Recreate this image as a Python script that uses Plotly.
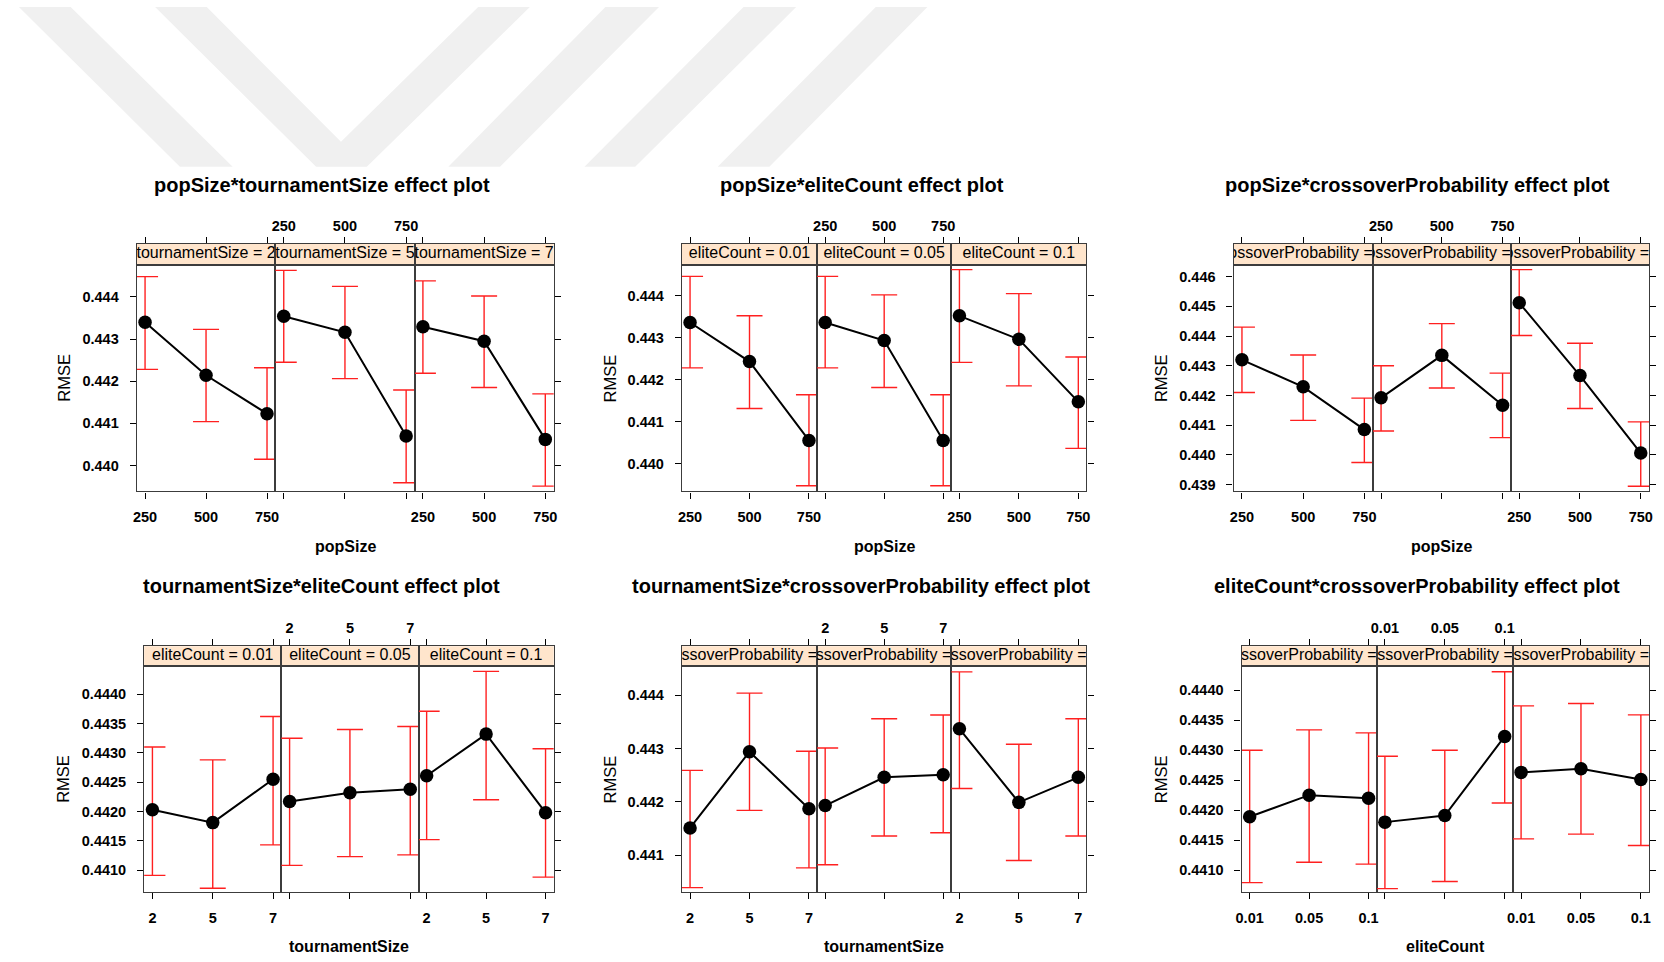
import plotly.graph_objects as go

# ---------------------------------------------------------------------------
# Factor levels
# ---------------------------------------------------------------------------
pop_levels = ["250", "500", "750"]
tourn_levels = ["2", "5", "7"]
elite_levels = ["0.01", "0.05", "0.1"]

tourn_strips = ["tournamentSize = 2", "tournamentSize = 5", "tournamentSize = 7"]
elite_strips = ["eliteCount = 0.01", "eliteCount = 0.05", "eliteCount = 0.1"]
cross_strips = ["crossoverProbability =", "crossoverProbability =", "crossoverProbability ="]

# ---------------------------------------------------------------------------
# Effect estimates (RMSE) with lower / upper confidence limits, one row per panel
# ---------------------------------------------------------------------------
pop_tourn_fit = [[0.44340, 0.44214, 0.44123], [0.44354, 0.44316, 0.44070], [0.44329, 0.44295, 0.44062]]
pop_tourn_lower = [[0.44228, 0.44104, 0.44015], [0.44245, 0.44206, 0.43959], [0.44219, 0.44185, 0.43951]]
pop_tourn_upper = [[0.44448, 0.44323, 0.44232], [0.44463, 0.44425, 0.44179], [0.44438, 0.44402, 0.44170]]

pop_elite_fit = [[0.44336, 0.44243, 0.44055], [0.44336, 0.44293, 0.44055], [0.44352, 0.44296, 0.44147]]
pop_elite_lower = [[0.44228, 0.44131, 0.43947], [0.44228, 0.44181, 0.43947], [0.44241, 0.44185, 0.44036]]
pop_elite_upper = [[0.44446, 0.44352, 0.44164], [0.44446, 0.44402, 0.44164], [0.44462, 0.44405, 0.44254]]

pop_cross_fit = [[0.44320, 0.44229, 0.44085], [0.44192, 0.44335, 0.44167], [0.44512, 0.44267, 0.44006]]
pop_cross_lower = [[0.44210, 0.44116, 0.43974], [0.44080, 0.44225, 0.44058], [0.44402, 0.44156, 0.43894]]
pop_cross_upper = [[0.44430, 0.44336, 0.44191], [0.44300, 0.44442, 0.44275], [0.44624, 0.44376, 0.44111]]

tourn_elite_fit = [[0.44203, 0.44181, 0.44255], [0.44217, 0.44232, 0.44238], [0.44261, 0.44332, 0.44198]]
tourn_elite_lower = [[0.44091, 0.44069, 0.44143], [0.44108, 0.44123, 0.44126], [0.44152, 0.44220, 0.44088]]
tourn_elite_upper = [[0.44310, 0.44288, 0.44362], [0.44325, 0.44340, 0.44345], [0.44371, 0.44439, 0.44307]]

tourn_cross_fit = [[0.44151, 0.44294, 0.44187], [0.44193, 0.44246, 0.44251], [0.44337, 0.44199, 0.44246]]
tourn_cross_lower = [[0.44039, 0.44184, 0.44076], [0.44082, 0.44136, 0.44142], [0.44225, 0.44090, 0.44136]]
tourn_cross_upper = [[0.44259, 0.44404, 0.44295], [0.44301, 0.44356, 0.44363], [0.44444, 0.44308, 0.44356]]

elite_cross_fit = [[0.44189, 0.44225, 0.44220], [0.44180, 0.44191, 0.44323], [0.44263, 0.44269, 0.44251]]
elite_cross_lower = [[0.44079, 0.44113, 0.44110], [0.44069, 0.44081, 0.44212], [0.44152, 0.44160, 0.44141]]
elite_cross_upper = [[0.44300, 0.44334, 0.44329], [0.44290, 0.44300, 0.44431], [0.44374, 0.44378, 0.44359]]

# y-axis tick values per plot
ticks_3dp_a = [0.440, 0.441, 0.442, 0.443, 0.444]
ticks_3dp_b = [0.439, 0.440, 0.441, 0.442, 0.443, 0.444, 0.445, 0.446]
ticks_4dp = [0.4410, 0.4415, 0.4420, 0.4425, 0.4430, 0.4435, 0.4440]
ticks_3dp_c = [0.441, 0.442, 0.443, 0.444]

# ---------------------------------------------------------------------------
# Page geometry (pixels)
# ---------------------------------------------------------------------------
W, H = 1664, 962
ROWS = [(244, 265, 492), (647, 667, 893)]          # strip top, strip bottom, panel bottom
XPAD = 0.137                                          # axis padding in level units
LINE = "#3c3c3c"
FONT = "Liberation Sans, Arial, sans-serif"
TICKFONT = dict(family=FONT, size=14.5, color="black", weight="bold")

plots = [
    dict(title="popSize*tournamentSize effect plot", xname="popSize", levels=pop_levels,
         strips=tourn_strips, strip_anchor="center",
         fit=pop_tourn_fit, lower=pop_tourn_lower, upper=pop_tourn_upper,
         yrange=[0.439384, 0.444763], yticks=ticks_3dp_a, fmt=".3f",
         edges=[131.5, 271, 411, 551], title_xy=(318, 185), rmse_x=58),
    dict(title="popSize*eliteCount effect plot", xname="popSize", levels=pop_levels,
         strips=elite_strips, strip_anchor="center",
         fit=pop_elite_fit, lower=pop_elite_lower, upper=pop_elite_upper,
         yrange=[0.439333, 0.444738], yticks=ticks_3dp_a, fmt=".3f",
         edges=[680, 816, 951, 1087], title_xy=(861, 185), rmse_x=608),
    dict(title="popSize*crossoverProbability effect plot", xname="popSize", levels=pop_levels,
         strips=cross_strips, strip_anchor="right",
         fit=pop_cross_fit, lower=pop_cross_lower, upper=pop_cross_upper,
         yrange=[0.438764, 0.446404], yticks=ticks_3dp_b, fmt=".3f",
         edges=[1235, 1375, 1514, 1653], title_xy=(1420, 185), rmse_x=1162),
    dict(title="tournamentSize*eliteCount effect plot", xname="tournamentSize", levels=tourn_levels,
         strips=elite_strips, strip_anchor="center",
         fit=tourn_elite_fit, lower=tourn_elite_lower, upper=tourn_elite_upper,
         yrange=[0.440625, 0.444477], yticks=ticks_4dp, fmt=".4f",
         edges=[139, 277, 415, 551], title_xy=(317, 587), rmse_x=58),
    dict(title="tournamentSize*crossoverProbability effect plot", xname="tournamentSize", levels=tourn_levels,
         strips=cross_strips, strip_anchor="right",
         fit=tourn_cross_fit, lower=tourn_cross_lower, upper=tourn_cross_upper,
         yrange=[0.440306, 0.444544], yticks=ticks_3dp_c, fmt=".3f",
         edges=[680, 816, 951, 1087], title_xy=(860, 587), rmse_x=608),
    dict(title="eliteCount*crossoverProbability effect plot", xname="eliteCount", levels=elite_levels,
         strips=cross_strips, strip_anchor="right",
         fit=elite_cross_fit, lower=elite_cross_lower, upper=elite_cross_upper,
         yrange=[0.440633, 0.444400], yticks=ticks_4dp, fmt=".4f",
         edges=[1243, 1379, 1516, 1653], title_xy=(1420, 587), rmse_x=1162),
]


def fx(px):
    return px / W


def fy(py):
    return 1 - py / H


def ax_id(letter, i):
    return letter if i == 1 else f"{letter}{i}"


def ax_key(letter, i):
    return f"{letter}axis" if i == 1 else f"{letter}axis{i}"


fig = go.Figure()
axes = {}
shapes = []
annotations = []

for p, spec in enumerate(plots):
    strip_top, strip_bot, panel_bot = ROWS[p // 3]
    n = len(spec["levels"])
    pos = list(range(n))
    xr = [-XPAD, n - 1 + XPAD]
    edges = spec["edges"]

    for k in range(3):
        m = p * 6 + k * 2 + 1      # data panel
        s = m + 1                  # strip above it
        dom_x = [fx(edges[k]), fx(edges[k + 1])]

        # data panel axes
        axes[ax_key("x", m)] = dict(
            domain=dom_x, anchor=ax_id("y", m), range=xr,
            tickvals=pos, ticktext=spec["levels"], showticklabels=(k != 1),
            ticks="outside", ticklen=6, tickwidth=1, tickcolor="black",
            ticklabelstandoff=6,
            showline=True, mirror=True, linecolor=LINE, linewidth=1.2,
            showgrid=False, zeroline=False, tickfont=TICKFONT, fixedrange=True,
        )
        axes[ax_key("y", m)] = dict(
            domain=[fy(panel_bot), fy(strip_bot)], anchor=ax_id("x", m),
            range=spec["yrange"], tickvals=spec["yticks"], tickformat=spec["fmt"],
            side="right" if k == 2 else "left",
            ticks="" if k == 1 else "outside", ticklen=6, tickwidth=1, tickcolor="black",
            showticklabels=(k == 0), ticklabelstandoff=8,
            showline=True, mirror=True, linecolor=LINE, linewidth=1.2,
            showgrid=False, zeroline=False, tickfont=TICKFONT, fixedrange=True,
        )

        # strip axes (tick marks on top, labels only over the middle panel)
        axes[ax_key("x", s)] = dict(
            domain=dom_x, anchor=ax_id("y", s), range=xr, side="top",
            tickvals=pos, ticktext=spec["levels"], showticklabels=(k == 1),
            ticks="outside", ticklen=6, tickwidth=1, tickcolor="black",
            showline=True, mirror=True, linecolor=LINE, linewidth=1.2,
            showgrid=False, zeroline=False, tickfont=TICKFONT, fixedrange=True,
        )
        axes[ax_key("y", s)] = dict(
            domain=[fy(strip_bot), fy(strip_top)], anchor=ax_id("x", s),
            range=[0, 1], showticklabels=False, ticks="",
            showline=True, mirror=True, linecolor=LINE, linewidth=1.2,
            showgrid=False, zeroline=False, fixedrange=True,
        )

        shapes.append(dict(
            type="rect", xref=f"{ax_id('x', s)} domain", yref=f"{ax_id('y', s)} domain",
            x0=0, x1=1, y0=0, y1=1, fillcolor="#ffe5cc", line=dict(width=0), layer="below",
        ))

        # strip label, clipped to the strip box
        if spec["strip_anchor"] == "center":
            sx, tpos = (n - 1) / 2, "middle center"
        else:
            sx, tpos = xr[1], "middle left"
        fig.add_trace(go.Scatter(
            x=[sx], y=[0.5], xaxis=ax_id("x", s), yaxis=ax_id("y", s),
            mode="text", text=[spec["strips"][k]], textposition=tpos,
            textfont=dict(family=FONT, size=16, color="black"),
            cliponaxis=True, showlegend=False, hoverinfo="skip",
        ))

        fit = spec["fit"][k]
        lo = spec["lower"][k]
        up = spec["upper"][k]

        # confidence intervals
        fig.add_trace(go.Scatter(
            x=pos, y=fit, xaxis=ax_id("x", m), yaxis=ax_id("y", m),
            mode="markers", marker=dict(size=1, color="rgba(0,0,0,0)"),
            error_y=dict(type="data", symmetric=False,
                         array=[u - f for u, f in zip(up, fit)],
                         arrayminus=[f - l for f, l in zip(fit, lo)],
                         color="#ff2020", thickness=1.4, width=13),
            cliponaxis=True, showlegend=False, hoverinfo="skip",
        ))
        # fitted effect line
        fig.add_trace(go.Scatter(
            x=pos, y=fit, xaxis=ax_id("x", m), yaxis=ax_id("y", m),
            mode="lines+markers", line=dict(color="black", width=2),
            marker=dict(size=13.5, color="black"),
            cliponaxis=True, showlegend=False,
        ))

    # plot title
    tx, ty = spec["title_xy"]
    annotations.append(dict(
        text=spec["title"], x=fx(tx), y=fy(ty), xref="paper", yref="paper",
        xanchor="center", yanchor="middle", showarrow=False,
        font=dict(family=FONT, size=20, color="black", weight="bold"),
    ))
    # x-axis title
    annotations.append(dict(
        text=spec["xname"], x=fx((edges[0] + edges[3]) / 2), y=fy(547 if p < 3 else 947),
        xref="paper", yref="paper", xanchor="center", yanchor="middle", showarrow=False,
        font=dict(family=FONT, size=16, color="black", weight="bold"),
    ))
    # y-axis title
    annotations.append(dict(
        text="RMSE", x=fx(spec["rmse_x"]), y=fy((strip_bot + panel_bot) / 2),
        xref="paper", yref="paper", xanchor="center", yanchor="middle", showarrow=False,
        textangle=-90, font=dict(family=FONT, size=16.5, color="black"),
    ))

# faint background emblem along the top edge
emblem = [
    [(13, 7), (65, 7), (228, 167), (175, 167)],
    [(150, 7), (202, 7), (337, 142), (475, 7), (527, 7), (363, 167), (312, 167)],
    [(603, 7), (657, 7), (497, 167), (445, 167)],
    [(742, 7), (795, 7), (633, 167), (582, 167)],
    [(875, 7), (927, 7), (768, 167), (716, 167)],
]
for poly in emblem:
    path = "M " + " L ".join(f"{fx(x):.5f},{fy(y):.5f}" for x, y in poly) + " Z"
    shapes.append(dict(type="path", xref="paper", yref="paper", path=path,
                       fillcolor="#f0f0f0", line=dict(width=0), layer="below"))

fig.update_layout(
    width=W, height=H, autosize=False,
    margin=dict(l=0, r=0, t=0, b=0),
    paper_bgcolor="white", plot_bgcolor="white",
    showlegend=False, shapes=shapes, annotations=annotations,
    **axes,
)

fig.write_html("out.html", config={"displayModeBar": False})
